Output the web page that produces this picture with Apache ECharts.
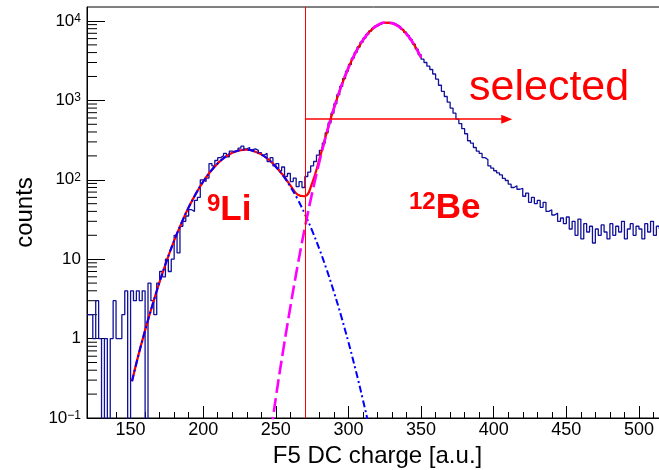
<!DOCTYPE html>
<html><head><meta charset="utf-8">
<script src="https://cdn.jsdelivr.net/npm/echarts@6/dist/echarts.min.js"></script>
<style>html,body{margin:0;padding:0;background:#fff}#c{width:659px;height:470px}</style>
</head><body><div id="c"></div>
<script>
// ---- data ----
const binStart = 120, binWidth = 2;
const counts = [
  2,2,1,3,1,0,1,0,1,3,
  1,1,2,4,0,4,3,4,3,4,
  0,5,3,2,5,7,6,10,7,10,
  20,12,26,30,35,42,40,55,60,100,
  95,105,160,150,175,190,200,215,195,230,
  225,235,250,265,245,255,240,245,235,220,
  205,215,170,190,150,160,130,145,110,120,
  95,105,82,95,80,110,125,150,170,205,
  235,290,390,520,690,910,1180,1500,1880,2330,
  2840,3410,4030,4700,5400,6100,6800,7480,8090,8620,
  9060,9370,9550,9600,9500,9260,8900,8420,7850,7210,
  6530,5820,5120,4430,3780,3300,3000,2700,2450,2150,
  1850,1550,1300,1120,950,800,690,580,510,440,
  380,310,290,255,230,215,190,180,150,140,
  130,122,115,104,98,88,80,84,76,78,
  62,68,52,60,50,55,45,52,40,42,
  36,38,30,33,28,34,24,30,20,32,
  18,28,22,26,16,24,20,27,22,18,
  28,20,26,22,30,18,24,28,20,26,
  24,18,28,22,30,20,26,24,22,26
];
const fitX = [151,155,160,165,170,175,180,185,190,195,200,205,210,215,220,225,230,235,240,245,250,255,260,265,270,275,280,285,290,295,300,305,310,315,320,325,330,335,340,345,350];
const fitTotal = [0.29,0.58,1.27,2.63,5.2,9.7,17.1,28.5,45,67,95,127,161,193,219,235,239,229,209,180,146,114,85,65,62,91,182,392,799,1500,2577,4033,5753,7476,8853,9554,9396,8420,6873,5117,3469];
const liX = [151,155,160,165,170,175,180,185,190,195,200,205,210,215,220,225,230,235,240,245,250,255,260,265,270,275,280,285,290,295,300,305,310,315,320];
const liFit = [0.29,0.58,1.27,2.63,5.2,9.7,17.1,28.5,45,67,95,127,161,193,219,235,239,229,209,180,146,113,82,57,37,22.9,13.4,7.4,3.87,1.92,0.9,0.4,0.168,0.067,0.025];
const beX = [245,250,255,260,265,270,275,280,285,290,295,300,305,310,315,320,325,330,335,340,345,350];
const beFit = [0.04,0.18,0.7,2.5,8.3,25,68,169,385,795,1499,2576,4033,5753,7476,8853,9554,9396,8420,6873,5117,3469];
const cutX = 270, arrowY = 580, arrowEndX = 409;
const xLabel = 'F5 DC charge [a.u.]', yLabel = 'counts';

// ---- build ----
const FONT = '"Liberation Sans", Arial, Helvetica, sans-serif';
const RED = '#ff0000';
const histData = counts.map((c, i) => [binStart + i * binWidth, c > 0 ? c : 1e-3]);
histData.push([binStart + counts.length * binWidth, counts[counts.length - 1] > 0 ? counts[counts.length - 1] : 1e-3]);
const zip = (xs, ys) => xs.map((x, i) => [x, ys[i]]);
const minorY = [];
for (let n = -1; n <= 4; n++) for (let k = 2; k <= 9; k++) { const v = k * Math.pow(10, n); if (v < 15000) minorY.push([120, v]); }

const chart = echarts.init(document.getElementById('c'), null, { renderer: 'canvas' });
chart.setOption({
  animation: false,
  backgroundColor: '#fff',
  grid: { left: 87, top: 7, width: 581, bottom: 52, outerBoundsMode: 'none', containLabel: false, show: true, borderColor: '#000', borderWidth: 1, backgroundColor: 'transparent' },
  xAxis: {
    type: 'value', min: 120, max: 520, splitNumber: 8, minInterval: 50, maxInterval: 50,
    name: xLabel, nameLocation: 'middle', nameGap: 19,
    nameTextStyle: { fontFamily: FONT, fontSize: 24, color: '#000' },
    axisLine: { show: true, onZero: false, lineStyle: { color: '#000', width: 1 } },
    axisTick: { show: true, inside: true, length: 12, lineStyle: { color: '#000' } },
    minorTick: { show: true, splitNumber: 5, length: 6, lineStyle: { color: '#000' } },
    axisLabel: { fontFamily: FONT, fontSize: 18, color: '#000', margin: 3, showMinLabel: false, showMaxLabel: false },
    splitLine: { show: false }
  },
  yAxis: {
    type: 'log', logBase: 10, min: 0.1, max: 15000,
    name: yLabel, nameLocation: 'middle', nameGap: 50, nameRotate: 90,
    nameTextStyle: { fontFamily: FONT, fontSize: 24, color: '#000' },
    axisLine: { show: true, onZero: false, lineStyle: { color: '#000', width: 1 } },
    axisTick: { show: true, inside: true, length: 18, lineStyle: { color: '#000' } },
    axisLabel: {
      fontFamily: FONT, fontSize: 17, color: '#000', margin: 6, showMaxLabel: false,
      formatter: function (v) {
        const l = Math.log10(v), n = Math.round(l);
        if (Math.abs(l - n) > 1e-6) return '';
        if (n === 0) return '1';
        if (n === 1) return '10';
        return '10{s|' + (n < 0 ? '\u2212' + (-n) : n) + '}';
      },
      rich: { s: { fontSize: 12, fontFamily: FONT, color: '#000', verticalAlign: 'top' } }
    },
    splitLine: { show: false }
  },
  series: [
    {
      type: 'custom', silent: true, data: minorY, encode: { x: 0, y: 1 }, clip: false,
      renderItem: function (params, api) {
        const p = api.coord([api.value(0), api.value(1)]);
        return { type: 'line', shape: { x1: p[0], y1: p[1], x2: p[0] + 10, y2: p[1] }, style: { stroke: '#000', lineWidth: 1 } };
      }
    },
    {
      name: 'data', type: 'line', step: 'end', data: histData, symbol: 'none', silent: true, clip: true,
      lineStyle: { color: '#10109a', width: 1.3 }
    },
    {
      name: 'total', type: 'line', data: zip(fitX, fitTotal), smooth: 0.4, symbol: 'none', silent: true, clip: true,
      lineStyle: { color: RED, width: 2.2 }
    },
    {
      name: 'Li', type: 'line', data: zip(liX, liFit), smooth: 0.4, symbol: 'none', silent: true, clip: true,
      lineStyle: { color: '#0000ff', width: 2, type: [7, 3, 2, 3] }
    },
    {
      name: 'Be', type: 'line', data: zip(beX, beFit), smooth: 0.4, symbol: 'none', silent: true, clip: true,
      lineStyle: { color: '#ff00ff', width: 2.6, type: [14, 5] }
    },
    {
      name: 'cut', type: 'line', data: [], silent: true, color: RED,
      itemStyle: { color: RED }, lineStyle: { color: RED },
      markLine: {
        silent: true, animation: false, symbol: ['none', 'none'], label: { show: false },
        itemStyle: { color: RED },
        lineStyle: { color: RED, width: 1, type: 'solid', opacity: 1 },
        emphasis: { disabled: true },
        data: [
          [{ coord: [cutX, 0.1], lineStyle: { color: RED, width: 1 } }, { coord: [cutX, 15000] }],
          [{ coord: [cutX, arrowY], symbol: 'none', lineStyle: { color: RED, width: 1.6 } },
           { coord: [arrowEndX, arrowY], symbol: 'triangle', symbolSize: [9, 11], itemStyle: { color: RED } }]
        ]
      }
    }
  ],
  graphic: [
    { type: 'text', x: 469, y: 88, silent: true, style: { text: 'selected', fill: RED, font: '43px ' + FONT, verticalAlign: 'middle', align: 'left' } },
    { type: 'text', x: 207, y: 210, silent: true, style: {
        text: '{s|9}{m|Li}', verticalAlign: 'middle', align: 'left',
        rich: { s: { fontSize: 24, fontWeight: 'bold', fontFamily: FONT, fill: RED, verticalAlign: 'top' },
                m: { fontSize: 35, fontWeight: 'bold', fontFamily: FONT, fill: RED } } } },
    { type: 'text', x: 409, y: 208, silent: true, style: {
        text: '{s|12}{m|Be}', verticalAlign: 'middle', align: 'left',
        rich: { s: { fontSize: 24, fontWeight: 'bold', fontFamily: FONT, fill: RED, verticalAlign: 'top' },
                m: { fontSize: 35, fontWeight: 'bold', fontFamily: FONT, fill: RED } } } }
  ]
});
</script>
</body></html>
